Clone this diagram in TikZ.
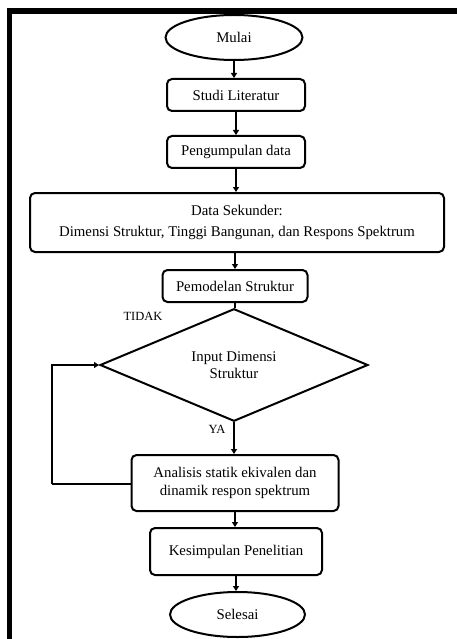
\documentclass[tikz,border=0pt]{standalone}
\usepackage{fontspec}
\setmainfont{Liberation Serif}
\usetikzlibrary{shapes.geometric,arrows.meta}
\begin{document}
\begin{tikzpicture}[x=1pt,y=-1pt,
  every node/.style={font=\fontsize{14.8}{17.5}\selectfont, align=center, inner sep=0pt},
  procbox/.style={draw, line width=2pt, rounded corners=5pt, rectangle},
  termnode/.style={draw, line width=2pt, ellipse},
  decnode/.style={draw, line width=2pt, diamond},
  arr/.style={line width=2pt, -{Triangle[length=5pt,width=6pt]}},
  loopline/.style={line width=1.3pt},
  lbl/.style={font=\fontsize{12.5}{14}\selectfont}
]
\useasboundingbox (0,0) rectangle (457,639);
% page frame (top and left edges)
\draw[line width=5.5pt, line join=miter] (9.5,645) -- (9.5,11) -- (463,11);

\node[termnode, minimum width=137pt, minimum height=45pt] (mulai) at (234,37.5) {Mulai};
\node[procbox, minimum width=138pt, minimum height=32pt] (studi) at (236,95) {Studi Literatur};
\node[procbox, minimum width=138pt, minimum height=32pt] (kumpul) at (236,152) {Pengumpulan data};
\node[procbox, minimum width=414pt, minimum height=59pt] (sekunder) at (237,222.5)
  {Data Sekunder:\\[3pt] Dimensi Struktur, Tinggi Bangunan, dan Respons Spektrum};
\node[procbox, minimum width=145pt, minimum height=32pt] (model) at (235,286) {Pemodelan Struktur};
\node[decnode, minimum width=268pt, minimum height=92pt] (input) at (234,365) {Input Dimensi\\Struktur};
\node[procbox, minimum width=207pt, minimum height=56pt] (analisis) at (235,483)
  {Analisis statik ekivalen dan\\dinamik respon spektrum};
\node[procbox, minimum width=172pt, minimum height=47pt] (simpul) at (236,551.5) {Kesimpulan Penelitian};
\node[termnode, minimum width=135pt, minimum height=45pt] (selesai) at (237.5,614.5) {Selesai};

\node[lbl] (tidak) at (143,316) {TIDAK};
\node[lbl] (ya) at (217,429) {YA};

% main flow
\draw[arr] (mulai.south) -- (mulai.south |- studi.north);
\draw[arr] (studi.south) -- (studi.south |- kumpul.north);
\draw[arr] (kumpul.south) -- (kumpul.south |- sekunder.north);
\draw[arr] (sekunder.south -| model.south) -- (model.north);
\draw[line width=2pt] (model.south) -- (model.south |- input.north);
\draw[arr] (input.south) -- (input.south |- analisis.north);
\draw[arr] (analisis.south) -- (analisis.south |- simpul.north);
\draw[arr] (simpul.south) -- (simpul.south |- selesai.north);

% loop back to the decision
\coordinate (loopcorner) at (52,484);
\draw[loopline] (analisis.west |- loopcorner) -- (loopcorner);
\draw[line width=1.6pt, -{Triangle[length=5pt,width=6pt]}] (loopcorner) |- (input.west);
\end{tikzpicture}
\end{document}
